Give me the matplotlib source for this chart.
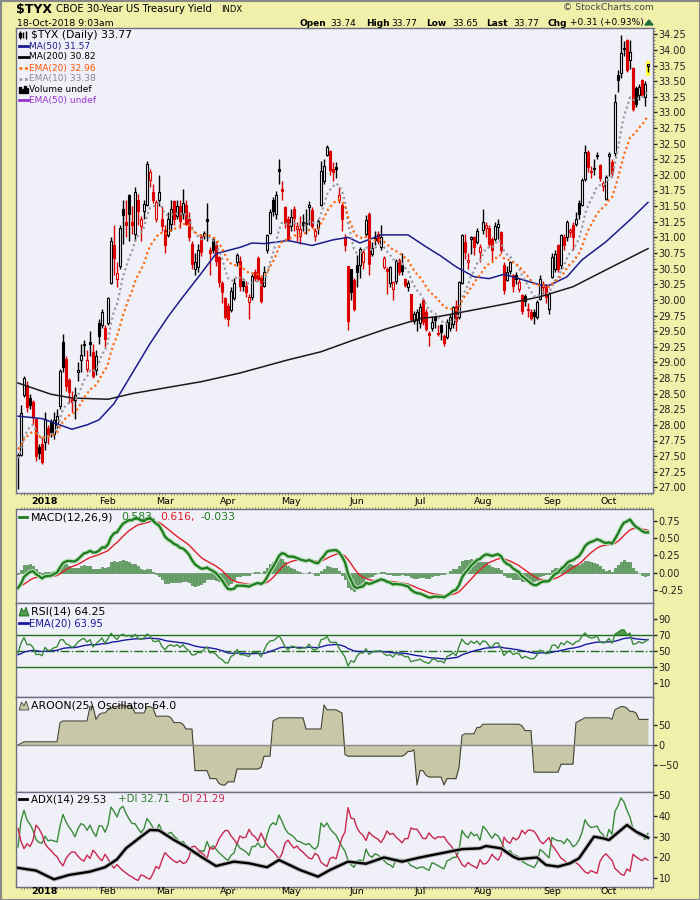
import numpy as np
import matplotlib
matplotlib.use("Agg")
import matplotlib.pyplot as plt
from matplotlib.patches import Rectangle, Polygon
from matplotlib.ticker import MultipleLocator, FormatStrFormatter

# daily candles, 18-Dec-2017 .. 18-Oct-2018 (last bar is today's partial bar)
opens = [27.50,27.52,28.48,28.64,28.43,28.37,28.10,27.64,27.70,27.73,
         27.95,28.05,27.85,28.00,28.30,29.33,29.05,28.71,28.42,28.40,
         28.85,29.04,29.30,28.90,29.32,29.16,28.88,29.63,29.60,29.55,
         29.63,30.27,30.87,30.33,30.55,31.45,31.25,31.67,31.24,31.05,
         31.60,31.18,31.43,31.52,31.92,31.72,31.30,31.60,31.30,31.12,
         31.04,31.22,31.58,31.35,31.50,31.38,31.52,31.30,30.90,30.50,
         30.52,31.00,31.03,31.30,30.80,30.97,30.90,30.68,30.27,30.03,
         29.90,29.84,30.03,30.60,30.62,30.30,30.22,29.97,30.05,30.44,
         30.67,30.35,30.22,30.80,31.07,31.60,31.37,32.10,31.77,31.48,
         31.30,31.18,31.46,31.14,31.02,31.25,31.22,31.48,31.44,31.02,
         31.15,31.52,31.90,32.32,32.38,32.10,32.12,31.60,31.52,31.00,
         30.54,30.49,30.32,30.56,30.56,30.60,31.05,31.38,30.74,30.99,
         31.05,30.85,30.53,30.49,30.27,30.17,30.30,30.64,30.56,30.33,
         30.20,30.10,29.66,29.68,29.63,30.00,29.81,29.47,29.55,29.72,
         29.47,29.60,29.42,29.41,29.55,29.62,29.90,29.73,30.27,30.93,
         30.60,30.98,31.00,30.92,30.76,31.12,31.15,31.15,30.98,30.98,
         31.17,31.09,30.56,30.32,30.47,30.40,30.40,30.17,30.08,30.06,
         29.86,29.81,29.81,29.73,30.02,30.20,30.20,29.86,30.37,30.50,
         30.88,30.56,31.00,31.00,31.08,31.20,31.22,31.55,31.52,31.93,
         32.37,32.07,32.11,32.30,32.16,31.82,31.62,32.30,32.21,32.35,
         33.60,33.63,34.02,34.16,33.84,33.71,33.39,33.28,33.52,33.25,
         33.74]
highs = [27.55,28.32,28.78,28.70,28.50,28.40,28.10,27.70,27.80,28.20,
         28.00,28.10,28.20,28.25,28.90,29.45,29.10,28.75,28.55,28.60,
         29.00,29.30,29.35,29.20,29.50,29.30,29.20,29.70,29.85,29.60,
         30.05,31.00,31.20,30.60,31.20,31.60,31.60,31.70,31.50,31.80,
         31.70,31.35,31.60,32.22,32.10,31.85,31.60,32.00,31.50,31.20,
         31.40,31.60,31.60,31.60,31.60,31.78,31.60,31.40,30.95,30.75,
         30.90,31.05,31.10,31.55,30.85,31.00,30.95,30.70,30.30,30.05,
         29.95,30.20,30.35,30.75,30.70,30.35,30.30,30.10,30.45,30.50,
         30.70,30.40,30.55,31.05,31.45,31.65,31.75,32.25,31.90,31.50,
         31.35,31.45,31.50,31.25,31.35,31.38,31.45,31.58,31.48,31.15,
         31.30,32.22,32.25,32.48,32.40,32.20,32.20,31.80,31.55,31.05,
         30.55,30.50,30.35,30.72,30.85,30.80,31.36,31.40,30.92,31.10,
         31.10,31.20,30.70,30.53,30.55,30.30,30.65,30.67,30.75,30.35,
         30.32,30.10,29.82,29.85,29.95,30.02,29.85,29.50,29.75,29.75,
         29.60,29.62,29.45,29.70,29.78,29.90,30.00,30.30,31.05,31.05,
         30.75,31.02,31.02,31.15,30.90,31.46,31.25,31.20,31.00,31.25,
         31.30,31.10,30.60,30.55,30.62,30.42,30.45,30.35,30.10,30.10,
         29.95,29.85,29.85,30.00,30.40,30.30,30.25,30.12,30.75,30.80,
         30.90,31.05,31.05,31.28,31.15,31.25,31.40,31.60,31.95,32.48,
         32.40,32.15,32.25,32.37,32.18,31.90,32.00,32.36,32.25,33.30,
         33.68,34.24,34.15,34.18,34.16,33.72,33.43,33.45,33.53,33.50,
         33.77]
lows = [26.98,27.50,28.45,28.20,28.25,28.00,27.42,27.45,27.37,27.60,
        27.70,27.80,27.78,27.95,28.25,28.85,28.55,28.35,28.20,28.10,
        28.70,28.85,29.10,28.85,29.10,28.75,28.80,29.30,29.55,29.25,
        29.60,30.25,30.40,30.20,30.50,30.90,31.00,30.95,31.05,30.95,
        31.20,30.95,31.30,31.50,31.80,31.55,31.25,31.50,31.10,30.75,
        31.00,31.10,31.20,31.30,31.15,31.30,31.20,30.95,30.50,30.40,
        30.45,30.70,30.98,30.95,30.40,30.75,30.55,30.20,29.95,29.70,
        29.58,29.80,30.00,30.55,30.15,30.15,30.05,29.70,30.00,30.30,
        30.30,29.95,30.20,30.75,31.05,31.35,31.30,31.85,31.60,31.15,
        30.95,31.10,31.10,30.95,30.90,31.10,31.05,31.20,31.15,30.95,
        31.05,31.50,31.85,32.30,32.00,31.90,31.95,31.55,31.10,30.78,
        29.52,30.00,29.82,30.20,30.35,30.50,31.00,30.40,30.70,30.88,
        30.90,30.80,30.50,30.10,30.20,30.00,30.25,30.40,30.40,30.20,
        30.15,29.65,29.62,29.50,29.55,29.60,29.50,29.27,29.50,29.55,
        29.42,29.35,29.27,29.38,29.50,29.55,29.50,29.70,30.25,30.66,
        30.50,30.73,30.72,30.90,30.60,31.05,31.00,30.85,30.62,30.95,
        30.98,30.75,30.10,30.30,30.42,30.13,30.25,30.12,29.78,29.90,
        29.73,29.67,29.62,29.70,30.00,30.10,29.95,29.78,30.35,30.45,
        30.45,30.50,30.80,30.95,31.00,30.80,31.18,31.30,31.50,31.90,
        32.05,31.95,32.00,32.25,31.90,31.75,31.60,31.98,31.98,32.30,
        33.33,33.55,33.90,33.65,33.70,33.02,33.08,33.20,33.25,33.10,
        33.65]
closes = [27.52,28.19,28.75,28.29,28.32,28.12,27.50,27.55,27.40,28.10,
          27.82,27.88,28.08,28.15,28.87,28.92,28.62,28.52,28.36,28.48,
          28.88,29.12,29.28,29.04,29.30,28.78,29.10,29.42,29.80,29.38,
          30.03,30.95,30.67,30.43,31.15,31.36,31.20,31.37,31.20,31.72,
          31.42,31.30,31.53,32.18,32.05,31.60,31.56,31.72,31.18,30.88,
          31.30,31.45,31.30,31.50,31.26,31.55,31.22,31.00,30.57,30.60,
          30.80,30.77,31.07,31.26,30.75,30.80,30.63,30.28,30.12,29.72,
          29.70,30.15,30.27,30.72,30.22,30.23,30.13,30.04,30.38,30.35,
          30.33,29.98,30.45,31.03,31.40,31.43,31.67,32.07,31.74,31.23,
          30.97,31.33,31.31,31.18,31.13,31.20,31.21,31.52,31.19,31.10,
          31.26,32.06,32.15,32.45,32.08,32.05,32.09,31.68,31.30,30.88,
          29.66,30.12,29.85,30.44,30.82,30.76,31.28,30.57,30.83,30.96,
          30.94,31.00,30.67,30.46,30.53,30.28,30.62,30.44,30.46,30.24,
          30.27,29.70,29.77,29.80,29.88,29.65,29.53,29.44,29.65,29.68,
          29.45,29.49,29.31,29.65,29.73,29.88,29.66,30.28,31.03,30.76,
          30.64,31.01,30.85,31.10,30.84,31.25,31.20,30.90,30.80,31.18,
          31.22,30.80,30.16,30.45,30.60,30.22,30.33,30.29,29.82,29.98,
          29.84,29.71,29.74,29.97,30.33,30.25,30.04,30.10,30.69,30.74,
          30.50,31.03,30.88,31.25,31.12,31.00,31.30,31.37,31.92,32.36,
          32.13,32.05,32.10,32.32,31.95,31.87,31.97,32.33,32.03,33.17,
          33.52,33.95,34.03,33.68,33.97,33.05,33.13,33.41,33.28,33.46,
          33.77]

# moving averages (they need history before the chart start)
ma50_bars = [0, 8, 18, 23, 27, 32, 38, 44, 50, 55, 61, 66, 74, 78, 82, 90, 98, 105,
             110, 114, 121, 130, 136, 141, 146, 152, 157, 162, 167, 174, 177, 183,
             188, 196, 204, 210]
ma50_vals = [28.14, 28.10, 27.93, 28.00, 28.08, 28.34, 28.82, 29.30, 29.73, 30.05,
             30.42, 30.74, 30.84, 30.91, 30.90, 30.95, 30.87, 30.96, 31.00, 30.91,
             31.04, 31.04, 30.85, 30.70, 30.53, 30.37, 30.34, 30.41, 30.34, 30.24,
             30.23, 30.37, 30.64, 30.93, 31.28, 31.56]
ma200_bars = [0, 11, 18, 30, 38, 50, 61, 74, 90, 101, 112, 123, 134, 141, 152, 163,
              174, 185, 196, 210]
ma200_vals = [28.67, 28.49, 28.43, 28.41, 28.50, 28.60, 28.69, 28.83, 29.04, 29.17,
              29.36, 29.54, 29.70, 29.74, 29.84, 29.94, 30.05, 30.21, 30.48, 30.82]

# ADX(14) line
adx_bars = [0, 6, 12, 17, 24, 29, 33, 36, 41, 44, 47, 52, 56, 61, 66, 72, 77, 83, 87,
            94, 100, 104, 110, 116, 122, 128, 134, 141, 148, 154, 156, 161, 165, 167,
            173, 176, 180, 184, 187, 192, 195, 197, 203, 206, 210]
adx_vals = [15.0, 13.7, 9.5, 11.6, 13.2, 15.3, 19.1, 24.4, 30.0, 33.2, 33.0, 28.4,
            25.2, 20.4, 15.9, 18.0, 17.2, 15.3, 18.8, 14.0, 10.8, 14.0, 18.0, 17.0,
            20.0, 18.0, 20.0, 22.0, 24.0, 24.4, 25.5, 24.4, 20.4, 19.2, 20.0, 16.4,
            15.6, 17.2, 19.6, 30.0, 29.2, 28.4, 35.6, 32.4, 29.5]

# starting levels of the indicators at the left edge
ema10_start = 27.47
ema20_start = 27.61
ema12_start = 27.60
ema26_start = 27.82
signal_start = -0.20

month_labels = ["2018", "Feb", "Mar", "Apr", "May", "Jun", "Jul", "Aug", "Sep", "Oct"]
month_bars = [9, 30, 49, 70, 91, 113, 134, 155, 178, 197]

o = np.array(opens); h = np.array(highs); l = np.array(lows); c = np.array(closes)
x = np.arange(len(c))


def ema(vals, n, start):
    a = 2.0 / (n + 1)
    out = [start]
    for v in vals[1:]:
        out.append(out[-1] + a * (v - out[-1]))
    return np.array(out)


def wilder(vals, n, start):
    out = [start]
    for v in vals[1:]:
        out.append(out[-1] + (v - out[-1]) / n)
    return np.array(out)


ema10 = ema(c, 10, ema10_start)
ema20 = ema(c, 20, ema20_start)
macd = ema(c, 12, ema12_start) - ema(c, 26, ema26_start)
signal = ema(macd, 9, signal_start)
hist = macd - signal

d = np.diff(c, prepend=c[0])
ag = wilder(np.maximum(d, 0), 14, 0.08)
al = wilder(np.maximum(-d, 0), 14, 0.09)
rsi = 100 - 100 / (1 + ag / al)
rsi_ema = ema(rsi, 20, 45.0)

aroon = []
for i in x:
    s = max(0, i - 25)
    wh = h[s:i + 1][::-1]
    wl = l[s:i + 1][::-1]
    up = 100.0 * (25 - np.argmax(wh)) / 25
    dn = 100.0 * (25 - np.argmin(wl)) / 25
    aroon.append(up - dn)
aroon = np.array(aroon)

pc = np.r_[c[0], c[:-1]]
ph = np.r_[h[0], h[:-1]]
pl = np.r_[l[0], l[:-1]]
tr = np.maximum(h - l, np.maximum(abs(h - pc), abs(l - pc)))
upm = h - ph
dnm = pl - l
pdm = np.where((upm > dnm) & (upm > 0), upm, 0.0)
mdm = np.where((dnm > upm) & (dnm > 0), dnm, 0.0)
atr = wilder(tr, 14, 0.28)
pdi = 100 * wilder(pdm, 14, 0.07) / atr
mdi = 100 * wilder(mdm, 14, 0.095) / atr

# ---- figure / layout in pixels ----
YEL = "#F0F0AA"
BG = "#F0F0F8"
EDGE = "#6E6E7E"
RED = "#DD0000"

fig = plt.figure(figsize=(7, 9), dpi=100, facecolor=YEL)


def box(x0, y0, x1, y1):
    return [x0 / 700, 1 - y1 / 900, (x1 - x0) / 700, (y1 - y0) / 900]


ax = fig.add_axes(box(16, 28, 653, 493))
ax_macd = fig.add_axes(box(16, 509, 653, 603))
ax_rsi = fig.add_axes(box(16, 603, 653, 697))
ax_ar = fig.add_axes(box(16, 697, 653, 792))
ax_adx = fig.add_axes(box(16, 792, 653, 887))

for a in [ax, ax_macd, ax_rsi, ax_ar, ax_adx]:
    a.set_facecolor(BG)
    a.set_xlim(-0.67, 211.67)
    for sp in a.spines.values():
        sp.set_color(EDGE)
        sp.set_linewidth(1)
    a.yaxis.tick_right()
    a.tick_params(axis="y", which="major", direction="out", length=3, width=1,
                  pad=1, labelsize=7, colors="#222222")
    a.tick_params(axis="y", which="minor", direction="out", length=1.5, width=0.6,
                  colors="#6E6E7E")
    a.tick_params(axis="x", which="both", bottom=False, top=False, labelbottom=False)
    a.xaxis.set_minor_locator(MultipleLocator(1))

ax.tick_params(axis="x", which="minor", bottom=True, direction="out", length=1.5,
               width=0.6, colors="#6E6E7E")
ax_macd.tick_params(axis="x", which="minor", top=True, direction="out", length=1.5,
                    width=0.6, colors="#6E6E7E")
ax_adx.tick_params(axis="x", which="minor", bottom=True, direction="out", length=1.5,
                   width=0.6, colors="#6E6E7E")

# ---- price panel ----
ax.set_ylim(26.91, 34.35)
ax.set_yticks(np.arange(27.0, 34.26, 0.25))
ax.yaxis.set_major_formatter(FormatStrFormatter("%.2f"))
ax.yaxis.set_minor_locator(MultipleLocator(0.05))

ax.add_patch(Rectangle((209.3, 33.58), 1.4, 0.25, facecolor="#FFFF33",
                       edgecolor="none", zorder=1))
cols = [RED if c[i] < pc[i] else "black" for i in x]
cols[0] = "black"
faces = [cols[i] if c[i] < o[i] else BG for i in x]
bottoms = np.minimum(o, c)
heights = np.maximum(abs(c - o), 0.012)
ax.vlines(x, l, h, colors=cols, lw=1, zorder=2)
ax.bar(x, heights, bottom=bottoms, width=0.62, color=faces, edgecolor=cols,
       linewidth=0.8, zorder=3)

ax.plot(ma200_bars, ma200_vals, color="#1A1A1A", lw=1.1, zorder=4)
ax.plot(ma50_bars, ma50_vals, color="#1C1C8C", lw=1.1, zorder=4)
ax.plot(x, ema10, color="#9A9AA2", lw=1.6, ls=(0, (1, 1.3)), zorder=4)
ax.plot(x, ema20, color="#FF6A13", lw=1.6, ls=(0, (1, 1.3)), zorder=4)

# ---- MACD ----
ax_macd.set_ylim(-0.437, 0.919)
ax_macd.set_yticks([0.75, 0.5, 0.25, 0.0, -0.25])
ax_macd.yaxis.set_major_formatter(FormatStrFormatter("%.2f"))
ax_macd.bar(x, hist, width=0.85, color="#6AAA6A", edgecolor="#2E6E2E", linewidth=0.4)
ax_macd.plot(x, signal, color="#E0202A", lw=1)
ax_macd.plot(x, macd, color="#B8DDB8", lw=3.2)
ax_macd.plot(x, macd, color="#1E7B1E", lw=1.6)

# ---- RSI ----
ax_rsi.set_ylim(-7.5, 109.3)
ax_rsi.set_yticks([90, 70, 50, 30, 10])
ax_rsi.axhline(70, color="#1E6E1E", lw=1)
ax_rsi.axhline(30, color="#1E6E1E", lw=1)
ax_rsi.axhline(50, color="#1E6E1E", lw=1, ls="-.")
ax_rsi.fill_between(x, 70, rsi, where=rsi > 70, interpolate=True, color="#4E9A4E")
ax_rsi.plot(x, rsi_ema, color="#1A1AA0", lw=1)
ax_rsi.plot(x, rsi, color="#3A8A3A", lw=1)

# ---- Aroon oscillator ----
ax_ar.set_ylim(-117.5, 120)
ax_ar.set_yticks([50, 0, -50])
ax_ar.fill_between(x, 0, aroon, color="#C8C8A8", lw=0)
ax_ar.plot(x, aroon, color="#444433", lw=0.8)
ax_ar.axhline(0, color="#888888", lw=1)

# ---- ADX ----
ax_adx.set_ylim(5.82, 51.44)
ax_adx.set_yticks([50, 40, 30, 20, 10])
ax_adx.plot(x, pdi, color="#3A8A3A", lw=1)
ax_adx.plot(x, mdi, color="#C8284E", lw=1)
ax_adx.plot(adx_bars, adx_vals, color="#BBBBBB", lw=3.2)
ax_adx.plot(adx_bars, adx_vals, color="black", lw=1.7)

# ---- texts, drawn on a pixel overlay ----
ov = fig.add_axes([0, 0, 1, 1], facecolor="none")
ov.set_xlim(0, 700)
ov.set_ylim(900, 0)
ov.axis("off")
ov.add_patch(Rectangle((0.5, 0.5), 699, 899, fill=False, edgecolor="#888888", lw=1.5))

ov.text(16, 9, "$TYX", fontsize=9, fontweight="bold", va="center")
ov.text(56, 9, "CBOE 30-Year US Treasury Yield", fontsize=7.2, va="center")
ov.text(221, 9.5, "INDX", fontsize=6, va="center")
ov.text(17, 23, "18-Oct-2018 9:03am", fontsize=6.7, va="center")
ov.text(563, 8, "\u00a9 StockCharts.com", fontsize=6.7, va="center", color="#444444")

hdr = [(300, "Open", True), (330, "33.74", False), (366, "High", True),
       (391, "33.77", False), (426, "Low", True), (452, "33.65", False),
       (486, "Last", True), (513, "33.77", False), (547, "Chg", True),
       (570, "+0.31 (+0.93%)", False)]
for px, t, b in hdr:
    ov.text(px, 23, t, fontsize=6.5, fontweight="bold" if b else "normal", va="center")
ov.add_patch(Polygon([[645, 25], [653, 25], [649, 20]], color="#1E6E3E"))

fs = 6.5
fb = 7.8
# price legend
ly = [35, 46, 57, 68, 79, 89, 100]
ov.vlines([20, 23, 26], [31, 32, 31], [39, 38, 39], color="black", lw=1)
ov.add_patch(Rectangle((19.3, 33), 1.4, 4, color="black"))
ov.text(31, ly[0], "$TYX (Daily) 33.77", fontsize=fb, va="center")
ov.plot([19, 28], [ly[1], ly[1]], color="#1C1C8C", lw=2)
ov.text(29, ly[1], "MA(50) 31.57", fontsize=fs, va="center", color="#1C1C8C")
ov.plot([19, 28], [ly[2], ly[2]], color="black", lw=2)
ov.text(29, ly[2], "MA(200) 30.82", fontsize=fs, va="center")
ov.plot([19, 28], [ly[3], ly[3]], color="#FF6A13", lw=2, ls=(0, (1, 1)))
ov.text(29, ly[3], "EMA(20) 32.96", fontsize=fs, va="center", color="#FF5500")
ov.plot([19, 28], [ly[4], ly[4]], color="#9A9AA2", lw=2, ls=(0, (1, 1)))
ov.text(29, ly[4], "EMA(10) 33.38", fontsize=fs, va="center", color="#8A8A92")
for bx, bh in [(19, 6), (21.5, 4), (24, 7), (26.5, 5)]:
    ov.add_patch(Rectangle((bx, ly[5] + 3.5 - bh), 1.6, bh, color="black"))
ov.text(29, ly[5], "Volume undef", fontsize=fs, va="center")
ov.plot([19, 28], [ly[6], ly[6]], color="#9933CC", lw=2)
ov.text(29, ly[6], "EMA(50) undef", fontsize=fs, va="center", color="#9933CC")

# month labels
for y_lab in [502, 892]:
    for lab, b in zip(month_labels, month_bars):
        ov.text(18 + 3 * b, y_lab, lab, fontsize=6.8, ha="center", va="center",
                fontweight="bold" if lab == "2018" else "normal")

# MACD legend
ov.plot([19, 27], [517, 517], color="#1E7B1E", lw=2)
ov.text(31, 517, "MACD(12,26,9)", fontsize=fb, va="center")
ov.text(121, 517, "0.583,", fontsize=fb, va="center", color="#1E7B1E")
ov.text(160, 517, "0.616,", fontsize=fb, va="center", color="#E0202A")
ov.text(200, 517, "-0.033", fontsize=fb, va="center", color="#1E7B1E")

# RSI legend
ov.add_patch(Polygon([[19, 616], [21.5, 608], [24, 612], [26, 607], [29, 616]],
                     facecolor="#4E9A4E", edgecolor="#1E6E1E", lw=0.6))
ov.text(31, 611.5, "RSI(14) 64.25", fontsize=fb, va="center")
ov.plot([19, 28], [623, 623], color="#1A1AA0", lw=2)
ov.text(29, 623, "EMA(20) 63.95", fontsize=7.2, va="center", color="#1A1AA0")

# Aroon legend
ov.add_patch(Polygon([[19, 710], [21.5, 702], [24, 706], [26, 701], [29, 710]],
                     facecolor="#C8C8A8", edgecolor="#444433", lw=0.6))
ov.text(31, 706, "AROON(25) Oscillator 64.0", fontsize=fb, va="center")

# ADX legend
ov.plot([19, 27], [799, 799], color="black", lw=2)
ov.text(31, 799, "ADX(14) 29.53", fontsize=7.4, va="center")
ov.text(118, 799, "+DI 32.71", fontsize=7.4, va="center", color="#2E7D32")
ov.text(178, 799, "-DI 21.29", fontsize=7.4, va="center", color="#C8284E")

fig.savefig("out.png", dpi=100, facecolor=YEL)
